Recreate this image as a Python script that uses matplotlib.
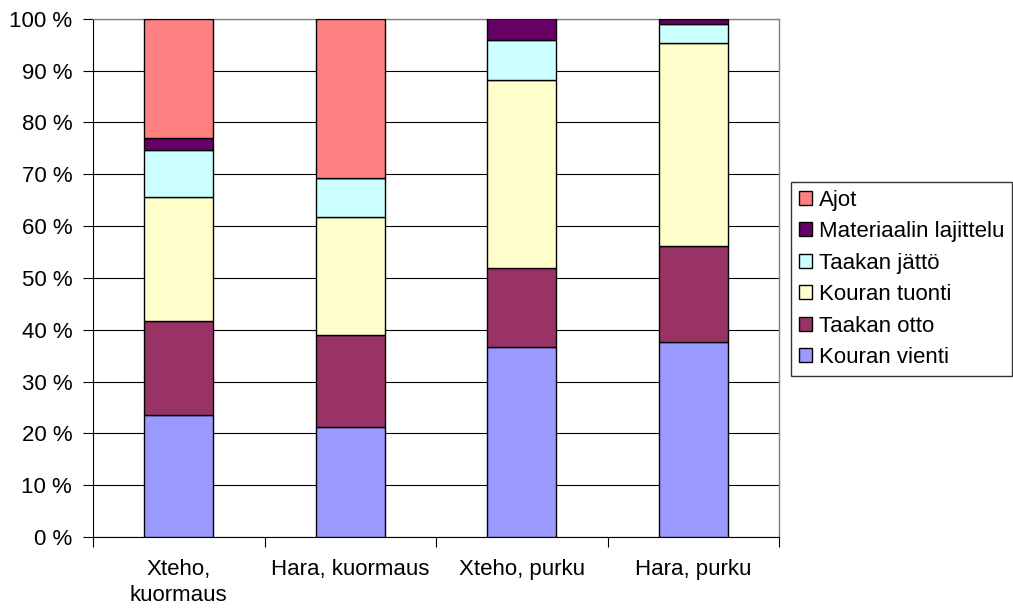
import numpy as np
import matplotlib
matplotlib.use('Agg')
import matplotlib.pyplot as plt

plt.rcParams['font.family'] = ['Liberation Sans', 'DejaVu Sans']

categories = ['Xteho,\nkuormaus', 'Hara, kuormaus', 'Xteho, purku', 'Hara, purku']
series = ['Kouran vienti', 'Taakan otto', 'Kouran tuonti', 'Taakan jättö',
          'Materiaalin lajittelu', 'Ajot']
kouran_vienti = [23.6, 21.2, 36.7, 37.6]
taakan_otto = [18.0, 17.7, 15.2, 18.5]
kouran_tuonti = [24.0, 22.9, 36.2, 39.2]
taakan_jatto = [9.1, 7.5, 7.8, 3.7]
materiaalin_lajittelu = [2.3, 0.0, 4.3, 0.9]
ajot = [23.0, 30.7, 0.0, 0.1]
colors = ['#9999FF', '#993366', '#FFFFCC', '#CCFFFF', '#660066', '#FF8080']
yticks = [0, 10, 20, 30, 40, 50, 60, 70, 80, 90, 100]

values = [kouran_vienti, taakan_otto, kouran_tuonti, taakan_jatto,
          materiaalin_lajittelu, ajot]

fig = plt.figure(figsize=(10.13, 6.10), dpi=100)
ax = fig.add_axes([93 / 1013, 73 / 610, 686 / 1013, 518.3 / 610])

x = np.arange(len(categories))
bottom = np.zeros(len(categories))
handles = []
for name, vals, col in zip(series, values, colors):
    vals = np.array(vals)
    b = ax.bar(x, vals, width=0.4, bottom=bottom, color=col,
               edgecolor='black', linewidth=1.0, label=name, zorder=3)
    handles.append(b)
    bottom += vals

ax.set_xlim(-0.5, len(categories) - 0.5)
ax.set_ylim(0, 100)
ax.set_yticks(yticks)
ax.set_yticklabels(['%d %%' % t for t in yticks])
ax.yaxis.grid(True, color='black', linewidth=0.8, zorder=0)
ax.set_axisbelow(True)

# category labels centered, tick marks between categories
ax.set_xticks(x)
ax.set_xticklabels(categories, linespacing=1.3)
ax.tick_params(axis='x', length=0, pad=16)
ax.set_xticks(np.arange(-0.5, len(categories)), minor=True)
ax.tick_params(axis='x', which='minor', length=7, width=0.8, direction='out')
ax.tick_params(axis='y', length=7, width=0.8, direction='out', pad=8)
ax.tick_params(labelsize=16)

for s in ['left', 'bottom']:
    ax.spines[s].set_color('black')
    ax.spines[s].set_linewidth(0.8)
for s in ['right', 'top']:
    ax.spines[s].set_color('#808080')
    ax.spines[s].set_linewidth(1.0)

leg = fig.legend(handles[::-1], series[::-1], loc='upper left',
                 bbox_to_anchor=(791 / 1013, 1 - 182 / 610),
                 fontsize=16, frameon=True, fancybox=False, shadow=False,
                 handlelength=0.6, handleheight=0.6, handletextpad=0.3,
                 labelspacing=0.47, borderpad=0.35, borderaxespad=0)
leg.get_frame().set_edgecolor('black')
leg.get_frame().set_linewidth(1.0)

fig.savefig('out.png', dpi=100)
